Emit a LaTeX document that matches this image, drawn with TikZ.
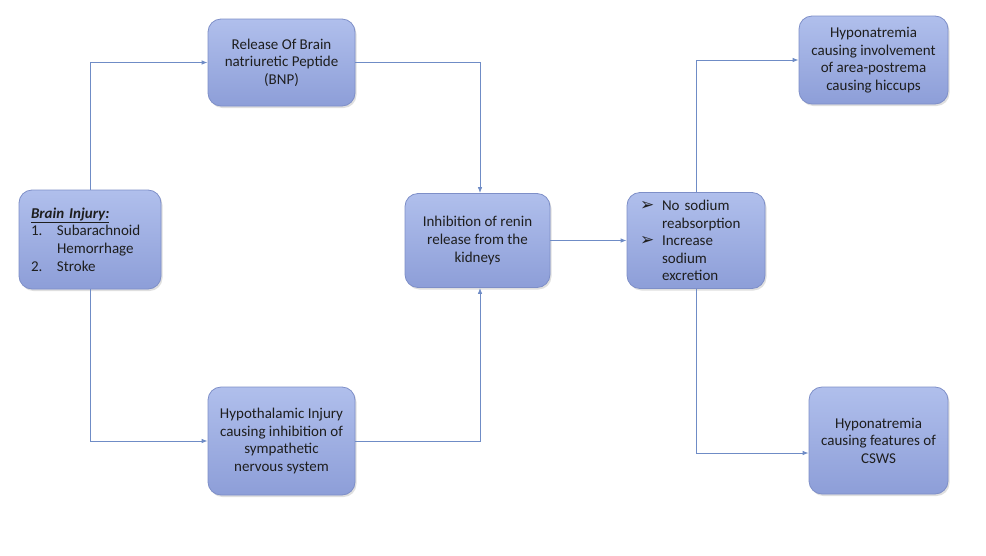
\documentclass[tikz,border=0pt]{standalone}
\usepackage{fontspec}
\setmainfont{Carlito}
\newfontfamily\symfont{DejaVu Sans}
\usetikzlibrary{arrows.meta,shadows}
\definecolor{BoxTop}{HTML}{B0BFEC}
\definecolor{BoxBot}{HTML}{8D9ED8}
\definecolor{Edge}{HTML}{7E8FC8}
\definecolor{Wire}{HTML}{6F8CC6}
\definecolor{Ink}{HTML}{1E1E1E}
\newcommand{\tick}{\makebox[22pt][l]{\symfont\fontsize{17}{17.6}\selectfont ➢}}

\begin{document}
\begin{tikzpicture}[x=1pt,y=-1pt,>={Latex[length=6pt,width=4.5pt]},
  box/.style={draw=Edge,line width=0.8pt,rounded corners=13pt,top color=BoxTop,bottom color=BoxBot,
    drop shadow={opacity=0.25,shadow xshift=1.5pt,shadow yshift=-2pt},
    align=center,text=Ink,font=\fontsize{15}{17.6}\selectfont,inner sep=0pt},
  wire/.style={Wire,->,line width=0.8pt}]
\fill[white] (0,0) rectangle (986,555);
\useasboundingbox (0,0) rectangle (986,555);
% boxes
\node[box,minimum width=142pt,minimum height=99pt,text width=118pt,align=left] (brain) at (90,239.5)
  {\underline{\textbf{\textit{Brain Injury:}}}\\
   \makebox[26pt][l]{1.}Subarachnoid\\
   \hspace*{26pt}Hemorrhage\\
   \makebox[26pt][l]{2.}Stroke};
\node[box,minimum width=147pt,minimum height=87pt] (bnp) at (281.5,62.5)
  {Release Of Brain\\natriuretic Peptide\\(BNP)};
\node[box,minimum width=147pt,minimum height=108pt] (hypo) at (281.5,441)
  {Hypothalamic Injury\\causing inhibition of\\sympathetic\\nervous system};
\node[box,minimum width=145pt,minimum height=94pt] (renin) at (477.5,240.5)
  {Inhibition of renin\\release from the\\kidneys};
\node[box,minimum width=138pt,minimum height=96pt,text width=112pt,align=left] (sodium) at (696,240.5)
  {\tick No sodium\\\hspace*{22pt}reabsorption\\\tick Increase\\\hspace*{22pt}sodium\\\hspace*{22pt}excretion};
\node[box,minimum width=149pt,minimum height=88pt] (hiccup) at (873.5,60)
  {Hyponatremia\\causing involvement\\of area-postrema\\causing hiccups};
\node[box,minimum width=139pt,minimum height=107pt] (csws) at (878.5,440.5)
  {Hyponatremia\\causing features of\\CSWS};
% connectors
\draw[wire] (brain.north) |- (bnp.west);
\draw[wire] (brain.south) |- (hypo.west);
\draw[wire] (bnp.east) -| ([xshift=2.5pt]renin.north);
\draw[wire] (hypo.east) -| ([xshift=2.5pt]renin.south);
\draw[wire] (renin.east) -- (sodium.west);
\draw[wire] (sodium.north) |- (hiccup.west);
\draw[wire] (sodium.south) |- ([yshift=-12.5pt]csws.west);
\end{tikzpicture}
\end{document}
